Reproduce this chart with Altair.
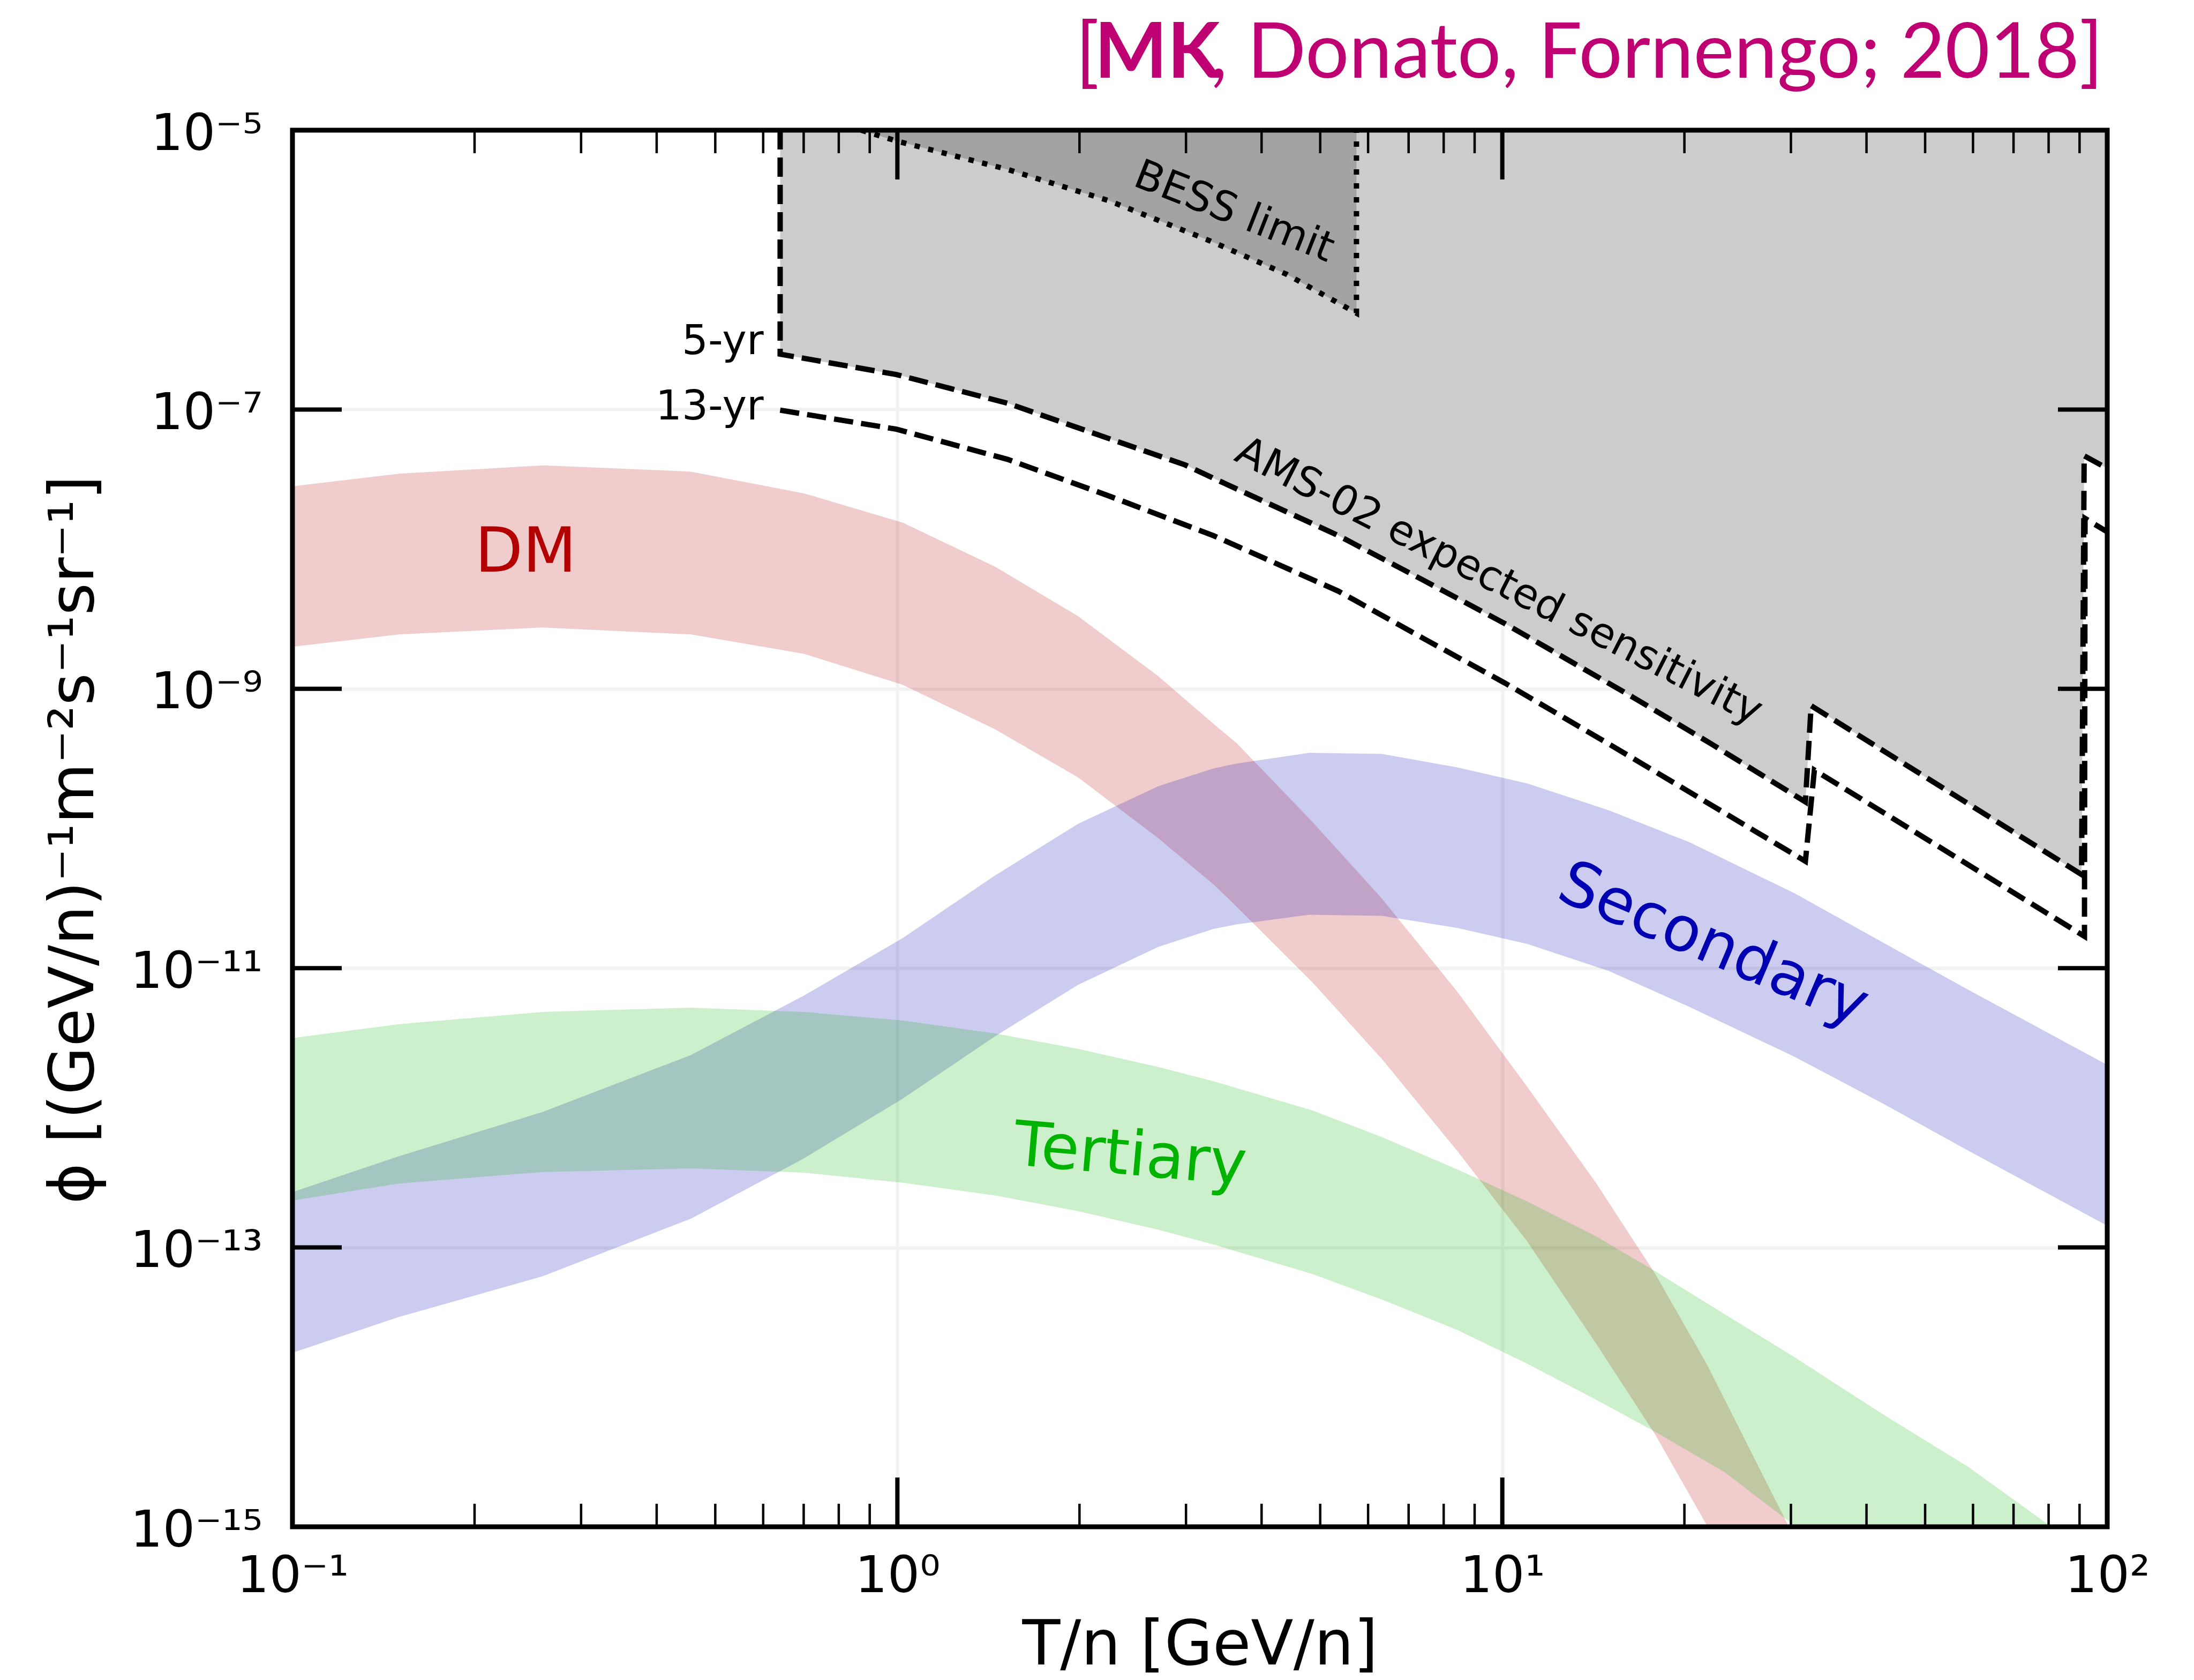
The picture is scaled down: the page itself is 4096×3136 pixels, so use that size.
import math
import altair as alt
import pandas as pd

# ---------------- data ----------------
# DM band (T/n in GeV/n, flux upper / lower)
dm_T = [0.100, 0.150, 0.259, 0.456, 0.701, 1.02, 1.45, 1.99, 2.70, 3.33, 3.64,
        4.85, 6.32, 8.43, 11.0, 14.3, 17.9, 21.8, 29.7]
dm_hi = [2.82e-8, 3.47e-8, 3.98e-8, 3.59e-8, 2.51e-8, 1.55e-8, 7.50e-9, 3.31e-9,
         1.23e-9, 5.62e-10, 4.07e-10, 1.12e-10, 3.16e-11, 6.76e-12, 1.41e-12,
         2.88e-13, 6.46e-14, 1.45e-14, 1.02e-15]
dm_lo = [2.00e-9, 2.45e-9, 2.75e-9, 2.45e-9, 1.78e-9, 1.07e-9, 5.13e-10, 2.32e-10,
         8.51e-11, 3.98e-11, 2.75e-11, 7.94e-12, 2.24e-12, 4.90e-13, 1.10e-13,
         2.04e-14, 4.57e-15, 1.02e-15, 1.0e-16]

# Secondary band
sec_T = [0.100, 0.150, 0.259, 0.456, 0.701, 1.02, 1.45, 1.99, 2.70, 3.33, 3.64,
         4.80, 6.32, 8.43, 11.0, 15.0, 20.4, 30.4, 42.3, 58.9, 100.0]
sec_hi = [2.49e-13, 4.50e-13, 9.33e-13, 2.39e-12, 6.37e-12, 1.64e-11, 4.61e-11,
          1.08e-10, 2.01e-10, 2.69e-10, 2.92e-10, 3.48e-10, 3.42e-10, 2.74e-10,
          2.10e-10, 1.35e-10, 7.96e-11, 3.44e-11, 1.55e-11, 7.00e-12, 2.03e-12]
sec_lo = [1.76e-14, 3.18e-14, 6.21e-14, 1.61e-13, 4.35e-13, 1.16e-12, 3.25e-12,
          7.60e-12, 1.42e-11, 1.91e-11, 2.06e-11, 2.41e-11, 2.37e-11, 1.94e-11,
          1.49e-11, 9.55e-12, 5.27e-12, 2.32e-12, 1.09e-12, 4.94e-13, 1.43e-13]

# Tertiary band
ter_T = [0.100, 0.150, 0.259, 0.456, 0.701, 1.02, 1.45, 1.99, 2.70, 3.33, 4.85,
         6.32, 8.43, 11.0, 14.3, 17.9, 23.3, 30.4, 42.3, 58.9, 80.3]
ter_hi = [3.16e-12, 3.97e-12, 4.86e-12, 5.21e-12, 4.86e-12, 4.22e-12, 3.41e-12,
          2.64e-12, 1.96e-12, 1.55e-12, 9.59e-13, 6.17e-13, 3.62e-13, 2.13e-13,
          1.20e-13, 6.76e-14, 3.33e-14, 1.64e-14, 6.50e-15, 2.69e-15, 1.02e-15]
ter_lo = [2.17e-13, 2.87e-13, 3.47e-13, 3.68e-13, 3.43e-13, 2.91e-13, 2.36e-13,
          1.82e-13, 1.34e-13, 1.05e-13, 6.47e-14, 4.24e-14, 2.56e-14, 1.47e-14,
          8.11e-15, 4.78e-15, 2.46e-15, 1.02e-15, 3.39e-16, 1.12e-16, 4.07e-17]

# AMS-02 expected sensitivity, 5-yr (also the edge of the grey region)
ams5_T = [0.640, 0.640, 0.996, 1.52, 2.24, 2.99, 3.33, 5.36, 7.4, 10.1, 16.3, 22.0,
          31.7, 32.4, 90.7, 91.6, 100.0]
ams5_phi = [1e-5, 2.49e-7, 1.78e-7, 1.11e-7, 6.18e-8, 4.01e-8, 3.22e-8, 1.25e-8,
            6.0e-9, 2.93e-9, 8.9e-10, 4.11e-10, 1.55e-10, 7.57e-10, 4.68e-11,
            4.66e-8, 3.79e-8]

# AMS-02 expected sensitivity, 13-yr
ams13_T = [0.640, 0.996, 1.52, 2.24, 3.33, 5.36, 7.4, 10.1, 15.3, 31.7, 32.8, 91.7,
           91.9, 100.0]
ams13_phi = [9.89e-8, 7.23e-8, 4.4e-8, 2.40e-8, 1.25e-8, 5.0e-9, 2.3e-9, 1.10e-9,
             3.83e-10, 5.83e-11, 2.62e-10, 1.69e-11, 1.66e-8, 1.33e-8]

# BESS limit
bess_T = [0.871, 0.996, 1.52, 2.24, 3.29, 4.40, 5.74, 5.74]
bess_phi = [1e-5, 8.38e-6, 5.24e-6, 3.12e-6, 1.61e-6, 9.29e-7, 4.9e-7, 1e-5]

# ticks and labels
x_ticks = [0.1, 1, 10, 100]
x_tick_labels = ["10⁻¹", "10⁰", "10¹", "10²"]
x_minor = [0.2, 0.3, 0.4, 0.5, 0.6, 0.7, 0.8, 0.9,
           2, 3, 4, 5, 6, 7, 8, 9,
           20, 30, 40, 50, 60, 70, 80, 90]
y_ticks = [1e-5, 1e-7, 1e-9, 1e-11, 1e-13, 1e-15]
y_tick_labels = ["10⁻⁵", "10⁻⁷", "10⁻⁹", "10⁻¹¹", "10⁻¹³", "10⁻¹⁵"]

x_title = "T/n [GeV/n]"
y_title = "ϕ [(GeV/n)⁻¹m⁻²s⁻¹sr⁻¹]"

# annotation anchors (T, phi) and texts
ann_dm = ("DM", 0.243, 6.93e-9)
ann_sec = ("Secondary", 21.7, 1.10e-11)
ann_ter = ("Tertiary", 2.41, 3.32e-13)
ann_ams = ("AMS-02 expected sensitivity", 9.66, 4.89e-9)
ann_bess = ("BESS limit", 3.54, 2.14e-6)
ann_5 = ("5-yr", 0.601, 2.49e-7)
ann_13 = ("13-yr", 0.601, 8.45e-8)

credit_open = "["
credit_bold = "MK"
credit_rest = ", Donato, Fornengo; 2018]"

# ---------------- layout / style ----------------
W, H = 3388, 2607
PAD = {"left": 546, "top": 243, "right": 4096 - 546 - W, "bottom": 3136 - 243 - H}
FONT = "DejaVu Sans"
TICK_FS = 95
TITLE_FS = 116
ANN_FS = 116
SMALL_FS = 77
LW = 10
GRID = "#f2f2f2"


def label_expr(vals, labs):
    parts = [f"round(log(datum.value)/LN10) == {round(math.log10(v))} ? '{l}'"
             for v, l in zip(vals, labs)]
    return " : ".join(parts) + " : ''"


x_scale = alt.Scale(type="log", domain=[0.1, 100], nice=False)
y_scale = alt.Scale(type="log", domain=[1e-15, 1e-5], nice=False)

x_axis = alt.Axis(values=x_ticks, labelExpr=label_expr(x_ticks, x_tick_labels),
                  ticks=False, tickSize=0, domain=False, grid=True,
                  gridColor=GRID, gridWidth=6,
                  labelFont=FONT, labelFontSize=TICK_FS, labelColor="black",
                  labelPadding=121, labelBaseline="alphabetic", labelLimit=2000,
                  labelFlush=False, labelOverlap=False,
                  title=x_title, titleFont=FONT, titleFontSize=TITLE_FS,
                  titleFontWeight="normal", titleColor="black",
                  titleBaseline="alphabetic", titleY=256)
y_axis = alt.Axis(values=y_ticks, labelExpr=label_expr(y_ticks, y_tick_labels),
                  ticks=False, tickSize=0, domain=False, grid=True,
                  gridColor=GRID, gridWidth=6,
                  labelFont=FONT, labelFontSize=TICK_FS, labelColor="black",
                  labelPadding=56, labelBaseline="alphabetic", labelOffset=36,
                  labelAlign="right", labelOverlap=False, labelFlush=False,
                  labelLimit=2000,
                  title=y_title, titleFont=FONT, titleFontSize=TITLE_FS,
                  titleFontWeight="normal", titleColor="black",
                  titleAngle=270, titleAlign="center", titleBaseline="alphabetic",
                  titleX=-373, titleY=1324, titleLimit=4000)


def X(field):
    return alt.X(f"{field}:Q", scale=x_scale, axis=x_axis)


def Y(field):
    return alt.Y(f"{field}:Q", scale=y_scale, axis=y_axis)


def band_df(T, hi, lo):
    return pd.DataFrame({"T": T, "hi": hi, "lo": lo})


def line_df(T, phi):
    return pd.DataFrame({"T": T, "phi": phi, "i": list(range(len(T)))})


layers = []

# grey region above 5-yr sensitivity
grey = line_df(ams5_T[1:], ams5_phi[1:])
layers.append(alt.Chart(grey).mark_area(color="#cccccc", clip=True).encode(
    x=X("T"), y=Y("phi"), y2=alt.datum(1e-5)))

# BESS darker region
bess_fill = line_df(bess_T[:-1], bess_phi[:-1])
layers.append(alt.Chart(bess_fill).mark_area(color="#a3a3a3", clip=True).encode(
    x=X("T"), y=Y("phi"), y2=alt.datum(1e-5)))

# flux bands
for T, hi, lo, col in [(dm_T, dm_hi, dm_lo, "#b30000"),
                       (sec_T, sec_hi, sec_lo, "#0000b3"),
                       (ter_T, ter_hi, ter_lo, "#00b300")]:
    layers.append(alt.Chart(band_df(T, hi, lo)).mark_area(
        color=col, opacity=0.2, clip=True).encode(
        x=X("T"), y=Y("hi"), y2="lo:Q"))

# lines
for T, phi, dash in [(ams5_T, ams5_phi, [36, 15]),
                     (ams13_T, ams13_phi, [36, 15]),
                     (bess_T, bess_phi, [10, 16])]:
    layers.append(alt.Chart(line_df(T, phi)).mark_line(
        color="black", strokeWidth=LW, strokeDash=dash, clip=True).encode(
        x=X("T"), y=Y("phi"), order="i:Q"))


def text_layer(ann, color, size, angle=0, align="center"):
    df = pd.DataFrame({"T": [ann[1]], "phi": [ann[2]], "label": [ann[0]]})
    kw = dict(font=FONT, fontSize=size, color=color, align=align,
              baseline="alphabetic")
    if angle:
        kw["angle"] = angle
    return alt.Chart(df).mark_text(**kw).encode(x=X("T"), y=Y("phi"), text="label:N")


layers.append(text_layer(ann_dm, "#b30000", ANN_FS))
layers.append(text_layer(ann_sec, "#0000b3", ANN_FS, angle=23))
layers.append(text_layer(ann_ter, "#00b300", ANN_FS, angle=5))
layers.append(text_layer(ann_ams, "black", SMALL_FS, angle=27))
layers.append(text_layer(ann_bess, "black", SMALL_FS, angle=21.5))
layers.append(text_layer(ann_5, "black", SMALL_FS, align="right"))
layers.append(text_layer(ann_13, "black", SMALL_FS, align="right"))

# inward ticks on all four sides
MAJ, MIN = 92, 43
xmaj = pd.DataFrame({"v": x_ticks})
xmin = pd.DataFrame({"v": x_minor})
ymaj = pd.DataFrame({"v": y_ticks})
for df, L, sw in [(xmaj, MAJ, 8), (xmin, MIN, 4.5)]:
    layers.append(alt.Chart(df).mark_rule(color="black", strokeWidth=sw).encode(
        x=X("v"), y=alt.value(H), y2=alt.value(H - L)))
    layers.append(alt.Chart(df).mark_rule(color="black", strokeWidth=sw).encode(
        x=X("v"), y=alt.value(0), y2=alt.value(L)))
layers.append(alt.Chart(ymaj).mark_rule(color="black", strokeWidth=8).encode(
    y=Y("v"), x=alt.value(0), x2=alt.value(MAJ)))
layers.append(alt.Chart(ymaj).mark_rule(color="black", strokeWidth=8).encode(
    y=Y("v"), x=alt.value(W), x2=alt.value(W - MAJ)))

# frame
one = pd.DataFrame({"a": [0]})
layers.append(alt.Chart(one).mark_rect(filled=False, stroke="black", strokeWidth=9).encode(
    x=alt.value(0), x2=alt.value(W), y=alt.value(0), y2=alt.value(H)))

# credit line
CRED_COL = "#be0073"
CRED_FS = 144
REST_START = 1736
layers.append(alt.Chart(one).mark_text(text=credit_rest, font="Lato", fontSize=CRED_FS,
                                       color=CRED_COL, align="right", baseline="alphabetic")
              .encode(x=alt.value(W - 8), y=alt.value(-98)))
layers.append(alt.Chart(one).mark_text(text=credit_bold, font="Lato", fontSize=CRED_FS,
                                       fontWeight="bold", color=CRED_COL, align="right",
                                       baseline="alphabetic")
              .encode(x=alt.value(REST_START - 4), y=alt.value(-98)))
layers.append(alt.Chart(one).mark_text(text=credit_open, font="Lato", fontSize=CRED_FS,
                                       color=CRED_COL, align="right", baseline="alphabetic")
              .encode(x=alt.value(REST_START - 230), y=alt.value(-98)))

chart = alt.layer(*layers).properties(
    width=W, height=H, padding=PAD,
    autosize=alt.AutoSizeParams(type="none"),
    background="white",
).configure_view(stroke="transparent")

chart.save("out.html", embed_options={"renderer": "svg", "actions": False})
